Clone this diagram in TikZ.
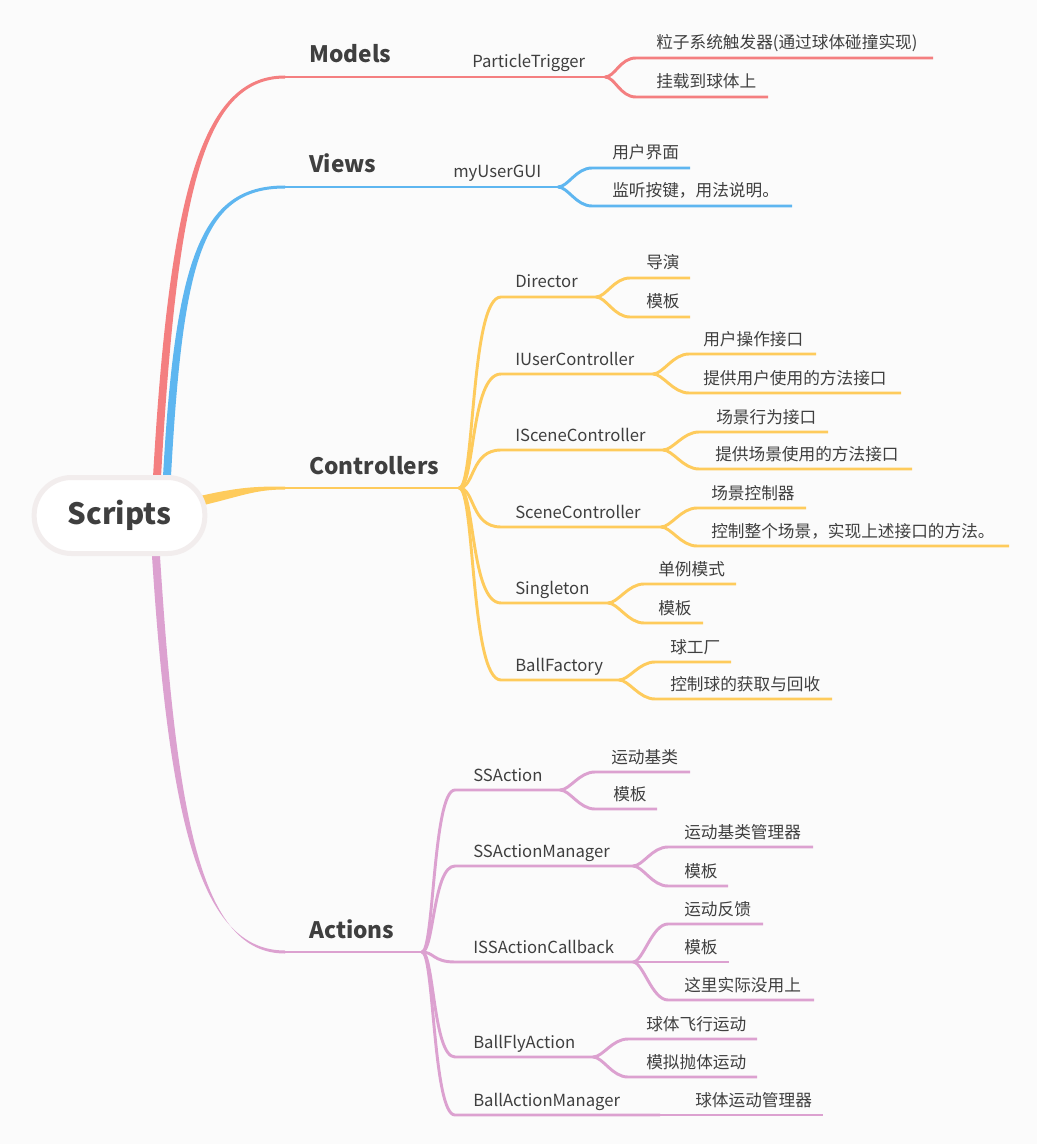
\documentclass[tikz,border=0pt]{standalone}
\usepackage{fontspec}
\setmainfont{Noto Sans CJK SC}
\usepackage{tikz}

\definecolor{bgc}{HTML}{FBFBFB}
\definecolor{rootline}{HTML}{F2EDED}
\definecolor{txt}{HTML}{3F3F3F}
\definecolor{mred}{HTML}{F47F80}
\definecolor{mblue}{HTML}{5EB6F0}
\definecolor{myellow}{HTML}{FECB5C}
\definecolor{mpink}{HTML}{DCA1D0}

\begin{document}
\begin{tikzpicture}[
    x=0.75pt, y=-0.75pt,
    root/.style={
        draw=rootline,
        line width=3.75pt,
        fill=white,
        rounded corners=28pt,
        minimum width=128pt,
        minimum height=57pt,
        font=\fontsize{22}{26}\selectfont\bfseries,
        text=txt
    },
    topic/.style={anchor=base west,inner sep=0pt,font=\fontsize{17}{20}\selectfont\bfseries,text=txt},
    sub/.style={anchor=base west,inner sep=0pt,font=\fontsize{12.5}{15}\selectfont,text=txt},
    leaf/.style={anchor=base west,inner sep=0pt,font=\fontsize{12.5}{15}\selectfont,text=txt},
    wire/.style={line width=2.2pt},
    fork/.style={out=0,in=180,out distance=12pt,in distance=23pt},
    afork/.style={out=0,in=180,out distance=9pt,in distance=16.5pt},
    twig/.style={out=0,in=180,out distance=7.5pt,in distance=12pt}
]
  \useasboundingbox[fill=bgc] (0,0) rectangle (1037,1144);

  % main branches, thick at the root
  \fill[mblue] (162,495) .. controls (174,260) and (199,185.5) .. (285,185.5)
    -- (285,188.5) .. controls (201,188.5) and (182,260) .. (170,495) -- cycle;
  \fill[mred] (152,495) .. controls (168,200) and (199,75.5) .. (285,75.5)
    -- (285,78.5) .. controls (201,78.5) and (176,200) .. (160,495) -- cycle;
  \fill[myellow] (200,496) .. controls (240,487) and (255,486.5) .. (285,486.5)
    -- (285,489.5) .. controls (255,489.5) and (242,496) .. (200,506) -- cycle;
  \fill[mpink] (151,540) .. controls (168,820) and (199,950.5) .. (285,950.5)
    -- (285,953.5) .. controls (201,953.5) and (176,820) .. (159,540) -- cycle;

  \node[root] (scripts) at (119.5,515.5) {Scripts};

  % Models
  \node[topic] (models) at (309,63) {Models};
  \coordinate (models-s) at (285,77);
  \coordinate (pt-f) at (605,77);
  \draw[wire,mred] (models-s) -- (pt-f);
  \node[sub] (pt) at (472,68) {ParticleTrigger};
  \foreach \nm/\y/\sx/\ex/\tx/\lbl in {
      pt1/58/636/933/656/粒子系统触发器(通过球体碰撞实现),
      pt2/97/636/768/656/挂载到球体上}{
    \coordinate (\nm-s) at (\sx,\y);
    \coordinate (\nm-e) at (\ex,\y);
    \draw[wire,mred] (pt-f) to[twig] (\nm-s) -- (\nm-e);
    \node[leaf] (\nm) at (\tx,\y-9) {\lbl};
  }

  % Views
  \node[topic] (views) at (309,173) {Views};
  \coordinate (views-s) at (285,187);
  \coordinate (gui-f) at (558,187);
  \draw[wire,mblue] (views-s) -- (gui-f);
  \node[sub] (gui) at (453,178) {myUserGUI};
  \foreach \nm/\y/\sx/\ex/\tx/\lbl in {
      gui1/168/592/690/612/用户界面,
      gui2/206/592/792/612/监听按键，用法说明。}{
    \coordinate (\nm-s) at (\sx,\y);
    \coordinate (\nm-e) at (\ex,\y);
    \draw[wire,mblue] (gui-f) to[twig] (\nm-s) -- (\nm-e);
    \node[leaf] (\nm) at (\tx,\y-9) {\lbl};
  }

  % Controllers
  \node[topic] (ctrl) at (309,474) {Controllers};
  \coordinate (ctrl-s) at (285,488);
  \coordinate (ctrl-f) at (459,488);
  \draw[wire,myellow] (ctrl-s) -- (ctrl-f);
  \foreach \nm/\y/\fx/\lbl in {
      dir/297/596/Director,
      iuc/374/653/IUserController,
      isc/450/663/ISceneController,
      sc/527/661/SceneController,
      sgl/603/608/Singleton,
      bf/680/619/BallFactory}{
    \coordinate (\nm-s) at (501,\y);
    \coordinate (\nm-f) at (\fx,\y);
    \draw[wire,myellow] (ctrl-f) to[fork] (\nm-s) -- (\nm-f);
    \node[sub] (\nm) at (515,\y-9) {\lbl};
  }
  \foreach \f/\nm/\y/\sx/\ex/\tx/\lbl in {
      dir/dir1/278/630/690/646/导演,
      dir/dir2/317/630/690/646/模板,
      iuc/iuc1/354/689/816/703/用户操作接口,
      iuc/iuc2/393/689/901/703/提供用户使用的方法接口,
      isc/isc1/432/699/828/716/场景行为接口,
      isc/isc2/469/699/912/715/提供场景使用的方法接口,
      sc/sc1/508/697/806/711/场景控制器,
      sc/sc2/546/697/1009/711/控制整个场景，实现上述接口的方法。,
      sgl/sgl1/584/644/736/658/单例模式,
      sgl/sgl2/623/644/703/658/模板,
      bf/bf1/662/655/731/670/球工厂,
      bf/bf2/699/655/832/670/控制球的获取与回收}{
    \coordinate (\nm-s) at (\sx,\y);
    \coordinate (\nm-e) at (\ex,\y);
    \draw[wire,myellow] (\f-f) to[twig] (\nm-s) -- (\nm-e);
    \node[leaf] (\nm) at (\tx,\y-9) {\lbl};
  }

  % Actions
  \node[topic] (act) at (309,938) {Actions};
  \coordinate (act-s) at (285,952);
  \coordinate (act-f) at (422,952);
  \draw[wire,mpink] (act-s) -- (act-f);
  \foreach \nm/\y/\fx/\lbl in {
      ssa/790/560/SSAction,
      ssam/866/633/SSActionManager,
      cb/962/633/ISSActionCallback,
      bfa/1057/593/BallFlyAction,
      bam/1115/660/BallActionManager}{
    \coordinate (\nm-s) at (455,\y);
    \coordinate (\nm-f) at (\fx,\y);
    \draw[wire,mpink] (act-f) to[afork] (\nm-s) -- (\nm-f);
    \node[sub] (\nm) at (473,\y-9) {\lbl};
  }
  \foreach \f/\nm/\y/\sx/\ex/\tx/\lbl in {
      ssa/ssa1/772/595/690/611/运动基类,
      ssa/ssa2/809/595/657/613/模板,
      ssam/ssam1/847/668/813/684/运动基类管理器,
      ssam/ssam2/886/668/728/684/模板,
      cb/cb1/924/668/763/684/运动反馈,
      cb/cb2/962/668/729/684/模板,
      cb/cb3/1000/668/814/684/这里实际没用上,
      bfa/bfa1/1039/628/757/646/球体飞行运动,
      bfa/bfa2/1077/628/757/646/模拟抛体运动,
      bam/bam1/1115/661/823/695/球体运动管理器}{
    \coordinate (\nm-s) at (\sx,\y);
    \coordinate (\nm-e) at (\ex,\y);
    \draw[wire,mpink] (\f-f) to[twig] (\nm-s) -- (\nm-e);
    \node[leaf] (\nm) at (\tx,\y-9) {\lbl};
  }
\end{tikzpicture}
\end{document}
